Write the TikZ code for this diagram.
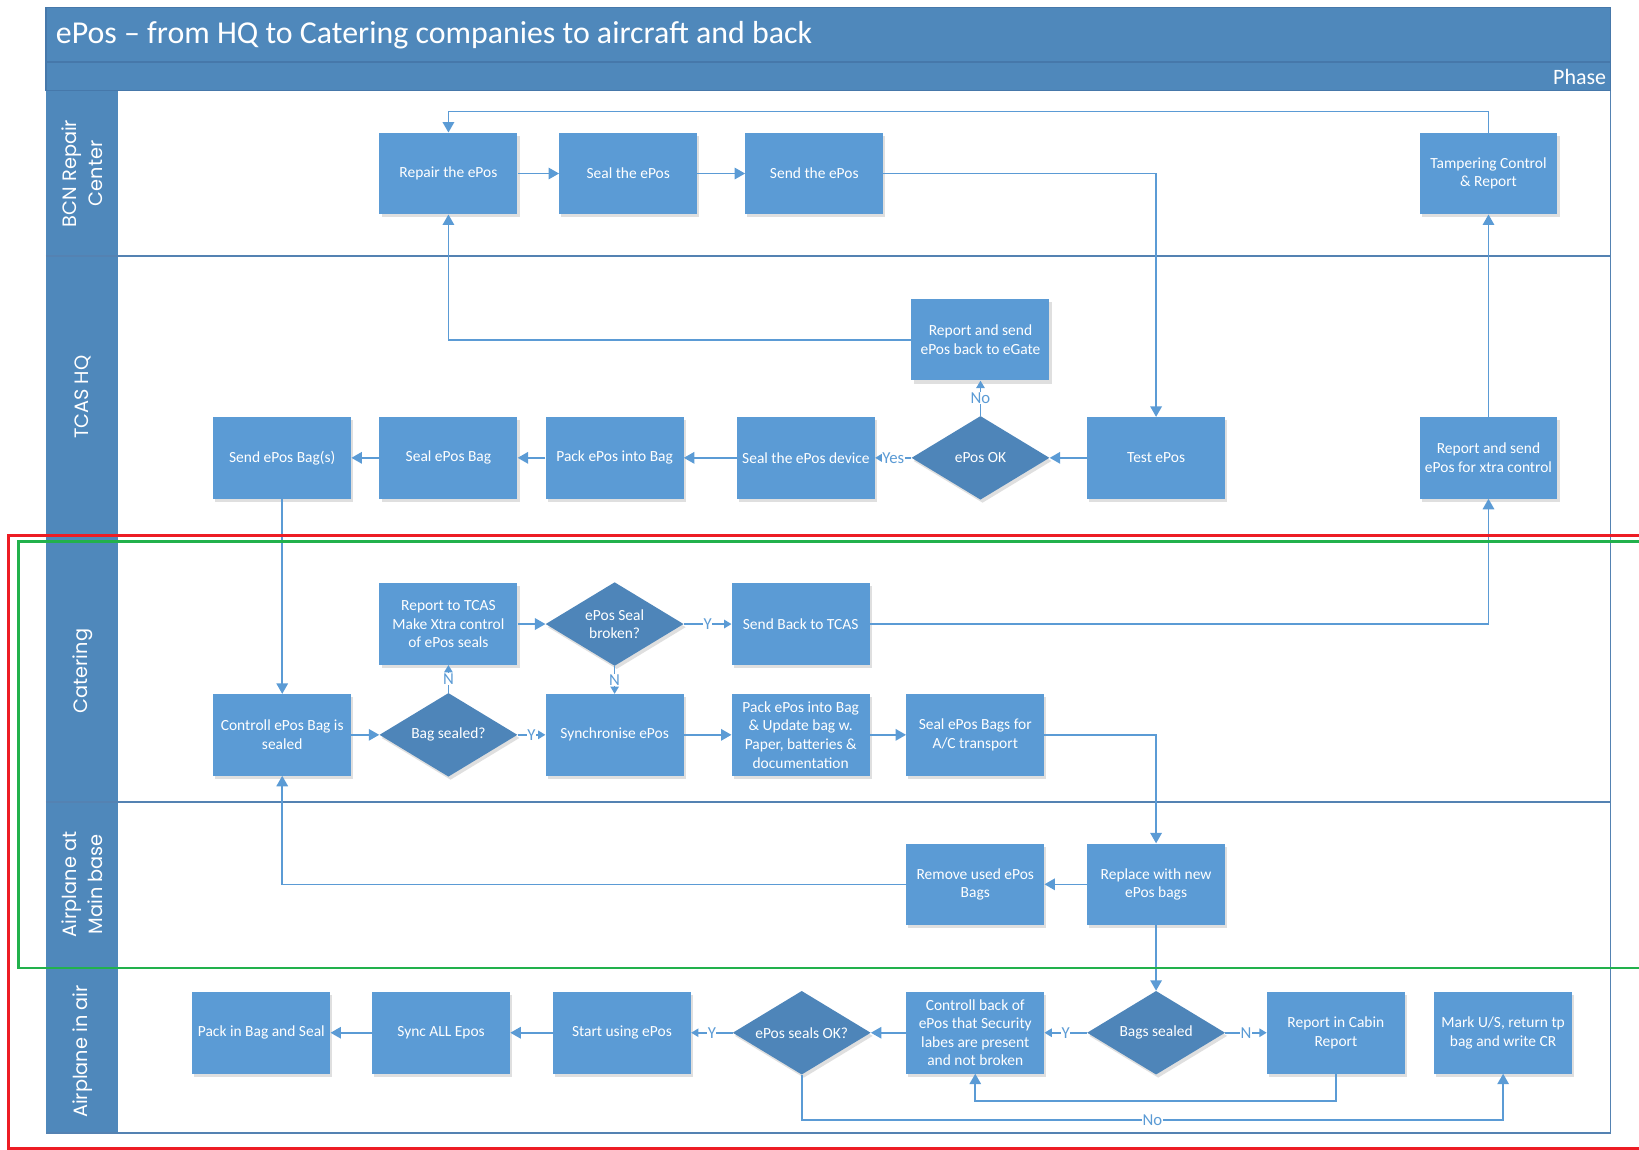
\documentclass[tikz,border=0pt]{standalone}
\usepackage{fontspec}
\setmainfont{Carlito}
\newfontfamily\lanefont{Poppins}
\usetikzlibrary{arrows.meta,shapes.geometric,shadows}
\definecolor{band}{RGB}{79,136,187}
\definecolor{bandline}{RGB}{70,120,170}
\definecolor{boxc}{RGB}{91,155,213}
\definecolor{decc}{RGB}{78,133,185}
\definecolor{linec}{RGB}{91,155,213}
\definecolor{lanel}{RGB}{84,130,178}
\definecolor{redc}{RGB}{237,28,36}
\definecolor{greenc}{RGB}{34,177,76}
\tikzset{
  shad/.style={drop shadow={shadow xshift=2pt,shadow yshift=-3pt,opacity=.18,fill=black!70}},
  proc/.style={rectangle, fill=boxc, minimum width=132pt, minimum height=78pt,
    inner sep=1pt, align=center, text=white, shad,
    font=\fontsize{14.8}{17.8}\selectfont},
  dec/.style={diamond, fill=decc, minimum width=132pt, minimum height=80pt, aspect=1.65,
    inner sep=1pt, align=center, text=white, shad,
    font=\fontsize{14.8}{17.8}\selectfont},
  conn/.style={draw=linec, line width=1.5pt, -{Triangle[length=10pt,width=11pt]}},
  sconn/.style={draw=linec, line width=1.5pt, -{Triangle[length=7pt,width=8pt]}},
  lbl/.style={fill=white, inner sep=0.4pt, text=linec, font=\fontsize{16}{16}\selectfont},
  lanetxt/.style={rotate=90, text=white, align=center, font=\lanefont\fontsize{18.5}{25}\selectfont},
  lanesep/.style={draw=lanel, line width=1.6pt},
}
\begin{document}
\begin{tikzpicture}[x=1pt,y=-1pt]
\useasboundingbox (0,0) rectangle (1568,1100);
\clip (0,0) rectangle (1568,1100);
% header bands
\fill[band] (44,7) rectangle (1541,87);
\draw[bandline, line width=1.5pt] (44,59.5) -- (1541,59.5);
\draw[bandline, line width=1pt] (44,7) rectangle (1541,87);
\node[anchor=west, text=white, font=\fontsize{30.5}{31}\selectfont] (title) at (50,34) {ePos – from HQ to Catering companies to aircraft and back};
\node[anchor=east, text=white, font=\fontsize{21}{22}\selectfont] (phase) at (1540,74) {Phase};
% label column
\fill[band] (44,87) rectangle (113,1084);
% lane separators and frame
\draw[lanesep] (44,245) -- (1541,245);
\draw[lanesep] (44,512) -- (1541,512);
\draw[lanesep] (44,767) -- (1541,767);
\draw[lanesep] (44,926) -- (1541,926);
\draw[lanel, line width=1.3pt] (1541,87) -- (1541,1084) -- (44,1084);
% lane labels
\node[lanetxt] (l1) at (79,166) {BCN Repair\\Center};
\node[lanetxt] (l2) at (79,380) {TCAS HQ};
\node[lanetxt] (l3) at (79,642) {Catering};
\node[lanetxt] (l4) at (79,846) {Airplane at\\Main base};
\node[lanetxt] (l5) at (79,1006) {Airplane in air};

% BCN
\node[proc] (repair) at (429,166) {Repair the ePos};
\node[proc] (sealepos) at (601,166) {Seal the ePos};
\node[proc] (send) at (779,166) {Send the ePos};
\node[proc] (tamper) at (1424,166) {Tampering Control\\\& Report};
% TCAS HQ
\node[proc] (rback) at (938,325) {Report and send\\ePos back to eGate};
\node[proc] (sendbag) at (270,438) {Send ePos Bag(s)};
\node[proc] (sealbag) at (429,438) {Seal ePos Bag};
\node[proc] (packbag) at (588,438) {Pack ePos into Bag};
\node[proc] (sealdev) at (771,438) {Seal the ePos device};
\node[dec] (ok) at (938,438) {ePos OK};
\node[proc] (test) at (1106,438) {Test ePos};
\node[proc] (xtra) at (1424,438) {Report and send\\ePos for xtra control};
% Catering
\node[proc] (rtcas) at (429,597) {Report to TCAS\\Make Xtra control\\of ePos seals};
\node[dec] (broken) at (588,597) {ePos Seal\\broken?};
\node[proc] (sendback) at (766,597) {Send Back to TCAS};
\node[proc] (ctrl) at (270,703) {Controll ePos Bag is\\sealed};
\node[dec] (bagsealed) at (429,703) {Bag sealed?};
\node[proc] (sync) at (588,703) {Synchronise ePos};
\node[proc] (packupd) at (766,703) {Pack ePos into Bag\\\& Update bag w.\\Paper, batteries \&\\documentation};
\node[proc] (sealac) at (933,703) {Seal ePos Bags for\\A/C transport};
% Main base
\node[proc] (remove) at (933,846) {Remove used ePos\\Bags};
\node[proc] (replace) at (1106,846) {Replace with new\\ePos bags};
% In air
\node[proc] (packseal) at (250,988) {Pack in Bag and Seal};
\node[proc] (syncall) at (422,988) {Sync ALL Epos};
\node[proc] (start) at (595,988) {Start using ePos};
\node[dec] (sealsok) at (767,988) {ePos seals OK?};
\node[proc] (ctrlback) at (933,988) {Controll back of\\ePos that Security\\labes are present\\and not broken};
\node[dec] (bagsd) at (1106,988) {Bags sealed};
\node[proc] (cabin) at (1278,988) {Report in Cabin\\Report};
\node[proc] (mark) at (1438,988) {Mark U/S, return tp\\bag and write CR};

% connectors
\draw[conn] (tamper.north) -- ++(0,-20) -| (repair.north);
\draw[conn] (repair) -- (sealepos);
\draw[conn] (sealepos) -- (send);
\draw[conn] (send.east) -| (test.north);
\draw[conn] (test.west) -- (ok.east);
\draw[sconn] (ok.north) -- node[lbl]{No} (rback.south);
\draw[sconn] (ok.west) -- node[lbl]{Yes} (sealdev.east);
\draw[conn] (sealdev.west) -- (packbag.east);
\draw[conn] (packbag.west) -- (sealbag.east);
\draw[conn] (sealbag.west) -- (sendbag.east);
\draw[conn] (rback.west) -| (repair.south);
\draw[conn] (sendbag.south) -- (ctrl.north);
\draw[conn] (ctrl.east) -- (bagsealed.west);
\draw[sconn] (bagsealed.east) -- node[lbl]{Y} (sync.west);
\draw[sconn] (bagsealed.north) -- node[lbl]{N} (rtcas.south);
\draw[conn] (rtcas.east) -- (broken.west);
\draw[sconn] (broken.east) -- node[lbl]{Y} (sendback.west);
\draw[sconn] (broken.south) -- node[lbl]{N} (sync.north);
\draw[conn] (sendback.east) -| (xtra.south);
\draw[conn] (xtra.north) -- (tamper.south);
\draw[conn] (sync.east) -- (packupd.west);
\draw[conn] (packupd.east) -- (sealac.west);
\draw[conn] (sealac.east) -| (replace.north);
\draw[conn] (replace.west) -- (remove.east);
\draw[conn] (remove.west) -| (ctrl.south);
\draw[conn] (replace.south) -- (bagsd.north);
\draw[sconn] (bagsd.west) -- node[lbl]{Y} (ctrlback.east);
\draw[sconn] (bagsd.east) -- node[lbl]{N} (cabin.west);
\draw[conn] (ctrlback.west) -- (sealsok.east);
\draw[sconn] (sealsok.west) -- node[lbl]{Y} (start.east);
\draw[conn] (start.west) -- (syncall.east);
\draw[conn] (syncall.west) -- (packseal.east);
\draw[conn] (cabin.south) -- ++(0,26) -| (ctrlback.south);
\draw[conn] (sealsok.south) -- ++(0,43) -| node[lbl, pos=0.25]{No} (mark.south);

% highlight frames
\draw[redc, line width=2.6pt] (1600,512) -- (8,512) -- (8,1098.5) -- (1600,1098.5);
\draw[greenc, line width=2.6pt] (1600,518) -- (18,518) -- (18,926) -- (1600,926);
\end{tikzpicture}
\end{document}
